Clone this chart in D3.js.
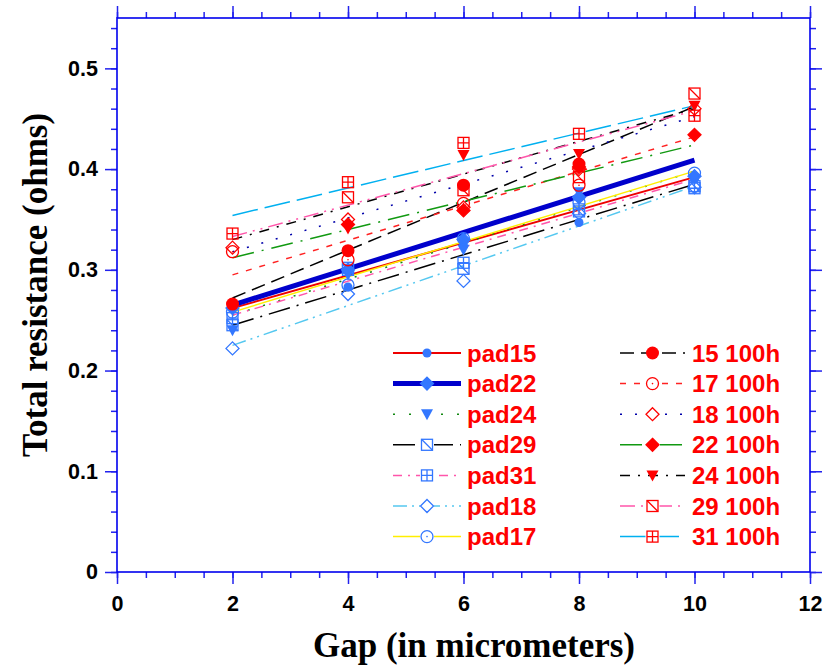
<!DOCTYPE html>
<html lang="en">
<head>
<meta charset="UTF-8">
<title>Total resistance vs gap</title>
<script src="https://d3js.org/d3.v7.min.js"></script>
<style>
    body { margin: 0; background: #fff; }
    .tick-label { font: bold 21.5px "Liberation Sans", Arial, sans-serif; fill: #000; }
    .axis-title { font: bold 35px "Liberation Serif", "Times New Roman", serif; fill: #000; }
    .legend text { font: bold 24px "Liberation Sans", Arial, sans-serif; fill: #ff0000; }
</style>
</head>
<body>
<svg width="827" height="671"></svg>
<script>
    // gap values (micrometers)
    const gaps = [2, 4, 6, 8, 10];
    const xTicks = [0, 2, 4, 6, 8, 10, 12];
    const yTicks = [0, 0.1, 0.2, 0.3, 0.4, 0.5];

    // series names, measured values (null = no point), fit line ends at 2 and 10 um
    const names = ["pad15", "pad22", "pad24", "pad29", "pad31", "pad18", "pad17",
                   "15 100h", "17 100h", "18 100h", "22 100h", "24 100h", "29 100h", "31 100h"];

    const pad15 = [0.262, 0.283, 0.324, 0.347, 0.390];
    const pad22 = [0.262, 0.300, 0.330, 0.372, 0.393];
    const pad24 = [0.240, 0.295, 0.320, 0.377, 0.390];
    const pad29 = [0.245, 0.300, 0.301, 0.358, 0.383];
    const pad31 = [0.252, 0.302, 0.307, 0.360, 0.381];
    const pad18 = [0.222, 0.276, 0.289, 0.356, 0.382];
    const pad17 = [0.258, 0.285, 0.331, 0.367, 0.396];
    const h15 = [0.266, 0.319, 0.384, 0.405, null];
    const h17 = [0.318, 0.310, 0.366, 0.384, null];
    const h18 = [0.322, 0.350, 0.362, 0.400, 0.460];
    const h22 = [null, 0.345, 0.359, 0.402, 0.434];
    const h24 = [null, 0.341, 0.414, 0.415, 0.463];
    const h29 = [null, 0.372, 0.379, 0.392, 0.475];
    const h31 = [0.336, 0.387, 0.426, 0.435, 0.453];
    const values = [pad15, pad22, pad24, pad29, pad31, pad18, pad17, h15, h17, h18, h22, h24, h29, h31];

    const fitStart = [0.262, 0.265, 0.255, 0.245, 0.255, 0.225, 0.258,
                      0.272, 0.295, 0.318, 0.312, 0.330, 0.333, 0.354];
    const fitEnd   = [0.392, 0.409, 0.398, 0.385, 0.390, 0.383, 0.398,
                      0.462, 0.432, 0.452, 0.424, 0.460, 0.458, 0.463];

    // styling per series
    const lineColor = ["#ee0000", "#0000cc", "#118811", "#000000", "#ff55aa", "#55c8f0", "#ffee00",
                       "#000000", "#ff2222", "#0000aa", "#119911", "#000000", "#ff55aa", "#00b0f0"];
    const lineWidth = [2, 5, 1.5, 1.5, 1.5, 1.5, 1.5, 1.5, 1.5, 1.5, 1.5, 1.5, 1.5, 1.5];
    const dashes = [null, null, "2,14", "22,7,2,7", "9,6,2,6", "14,5,2,5,2,5", null,
                    "14,7", "6,8", "2,13", "22,8,2,8", "10,8,2,8", "15,6,2,6,2,6", "26,7"];
    const shapes = ["dot", "diamondFill", "triDown", "sqDiag", "sqCross", "diamondOpen", "circleOpen",
                    "bigDot", "circleOpen", "diamondOpen", "diamondFill", "triDown", "sqDiag", "sqCross"];

    const svg = d3.select("svg");
    const x = d3.scaleLinear().domain([0, 12]).range([117, 810]);
    const y = d3.scaleLinear().domain([0, 0.55]).range([572, 18]);

    const blue = "#3377ff", red = "#ff0000", axisBlue = "#2222ee";

    function drawMarker(g, shape, color) {
        if (shape === "dot") {
            g.append("circle").attr("r", 4.5).attr("fill", color);
        } else if (shape === "bigDot") {
            g.append("circle").attr("r", 6.5).attr("fill", color);
        } else if (shape === "diamondFill" || shape === "diamondOpen") {
            const s = 6.5;
            g.append("path").attr("d", `M0,${-s}L${s},0L0,${s}L${-s},0Z`)
                .attr("fill", shape === "diamondFill" ? color : "none")
                .attr("stroke", color).attr("stroke-width", 1.3);
        } else if (shape === "triDown") {
            g.append("path").attr("d", "M-6,-5L6,-5L0,6Z").attr("fill", color);
        } else if (shape === "sqDiag" || shape === "sqCross") {
            const s = 5.5;
            g.append("rect").attr("x", -s).attr("y", -s).attr("width", 2 * s).attr("height", 2 * s)
                .attr("fill", "none").attr("stroke", color).attr("stroke-width", 1.3);
            const d = shape === "sqDiag" ? `M${-s},${-s}L${s},${s}`
                : `M0,${-s}V${s}M${-s},0H${s}`;
            g.append("path").attr("d", d).attr("stroke", color).attr("stroke-width", 1.3);
        } else if (shape === "circleOpen") {
            g.append("circle").attr("r", 6).attr("fill", "none")
                .attr("stroke", color).attr("stroke-width", 1.3);
            g.append("circle").attr("r", 0.8).attr("fill", color);
        }
    }

    // axes: major ticks with labels, minor ticks without
    const xMinor = d3.range(0, 12.001, 0.5);
    const yMinor = d3.range(0, 0.5501, 0.02);

    function styleAxis(g) {
        g.select(".domain").remove();
        g.selectAll("line").attr("stroke", axisBlue).attr("stroke-width", 1.5);
    }

    svg.append("g").attr("transform", "translate(0,572)")
        .call(d3.axisBottom(x).tickValues(xMinor).tickSize(6).tickFormat("")).call(styleAxis);
    svg.append("g").attr("transform", "translate(0,572)")
        .call(d3.axisBottom(x).tickValues(xTicks).tickSize(12).tickPadding(12).tickFormat(d3.format("d")))
        .call(styleAxis)
        .selectAll("text").attr("class", "tick-label");

    svg.append("g").attr("transform", "translate(0,18)")
        .call(d3.axisTop(x).tickValues(xMinor).tickSize(6).tickFormat("")).call(styleAxis);
    svg.append("g").attr("transform", "translate(0,18)")
        .call(d3.axisTop(x).tickValues(xTicks).tickSize(12).tickFormat("")).call(styleAxis);

    svg.append("g").attr("transform", "translate(117,0)")
        .call(d3.axisLeft(y).tickValues(yMinor).tickSize(6).tickFormat("")).call(styleAxis);
    svg.append("g").attr("transform", "translate(117,0)")
        .call(d3.axisLeft(y).tickValues(yTicks).tickSize(12).tickPadding(7)
            .tickFormat(d => d === 0 ? "0" : d3.format(".1f")(d)))
        .call(styleAxis)
        .selectAll("text").attr("class", "tick-label");

    svg.append("g").attr("transform", "translate(810,0)")
        .call(d3.axisRight(y).tickValues(yMinor).tickSize(6).tickFormat("")).call(styleAxis);
    svg.append("g").attr("transform", "translate(810,0)")
        .call(d3.axisRight(y).tickValues(yTicks).tickSize(12).tickFormat("")).call(styleAxis);

    svg.append("rect")
        .attr("x", x(0)).attr("y", y(0.55))
        .attr("width", x(12) - x(0)).attr("height", y(0) - y(0.55))
        .attr("fill", "none").attr("stroke", "#0000ee").attr("stroke-width", 1.6);

    // fit lines
    const plot = svg.append("g");
    names.forEach((n, i) => {
        plot.append("line")
            .attr("x1", x(gaps[0])).attr("y1", y(fitStart[i]))
            .attr("x2", x(gaps[gaps.length - 1])).attr("y2", y(fitEnd[i]))
            .attr("stroke", lineColor[i]).attr("stroke-width", lineWidth[i])
            .attr("stroke-dasharray", dashes[i]);
    });

    // markers
    names.forEach((n, i) => {
        const color = i < 7 ? blue : red;
        values[i].forEach((v, j) => {
            if (v === null) return;
            const g = plot.append("g").attr("transform", `translate(${x(gaps[j])},${y(v)})`);
            drawMarker(g, shapes[i], color);
        });
    });

    // legend
    const legend = svg.append("g").attr("class", "legend");
    const legendCols = [{x0: 393, x1: 461, text: 467}, {x0: 620, x1: 685, text: 692}];
    names.forEach((n, i) => {
        const col = legendCols[i < 7 ? 0 : 1];
        const row = i % 7;
        const ly = 353 + row * 30.6;
        legend.append("line")
            .attr("x1", col.x0).attr("x2", col.x1).attr("y1", ly).attr("y2", ly)
            .attr("stroke", lineColor[i]).attr("stroke-width", lineWidth[i])
            .attr("stroke-dasharray", dashes[i]);
        const g = legend.append("g")
            .attr("transform", `translate(${(col.x0 + col.x1) / 2},${ly})`);
        if (shapes[i].indexOf("Open") > 0 || shapes[i].slice(0, 2) === "sq") {
            g.append("rect").attr("x", -7).attr("y", -7).attr("width", 14).attr("height", 14).attr("fill", "#fff");
        }
        drawMarker(g, shapes[i], i < 7 ? blue : red);
        legend.append("text").attr("x", col.text).attr("y", ly).attr("dy", "0.36em").text(n);
    });

    // axis titles
    svg.append("text").attr("class", "axis-title")
        .attr("x", 474).attr("y", 657).attr("text-anchor", "middle")
        .text("Gap (in micrometers)");
    svg.append("text").attr("class", "axis-title")
        .attr("transform", "translate(47,285) rotate(-90)").attr("text-anchor", "middle")
        .text("Total resistance (ohms)");
</script>
</body>
</html>
